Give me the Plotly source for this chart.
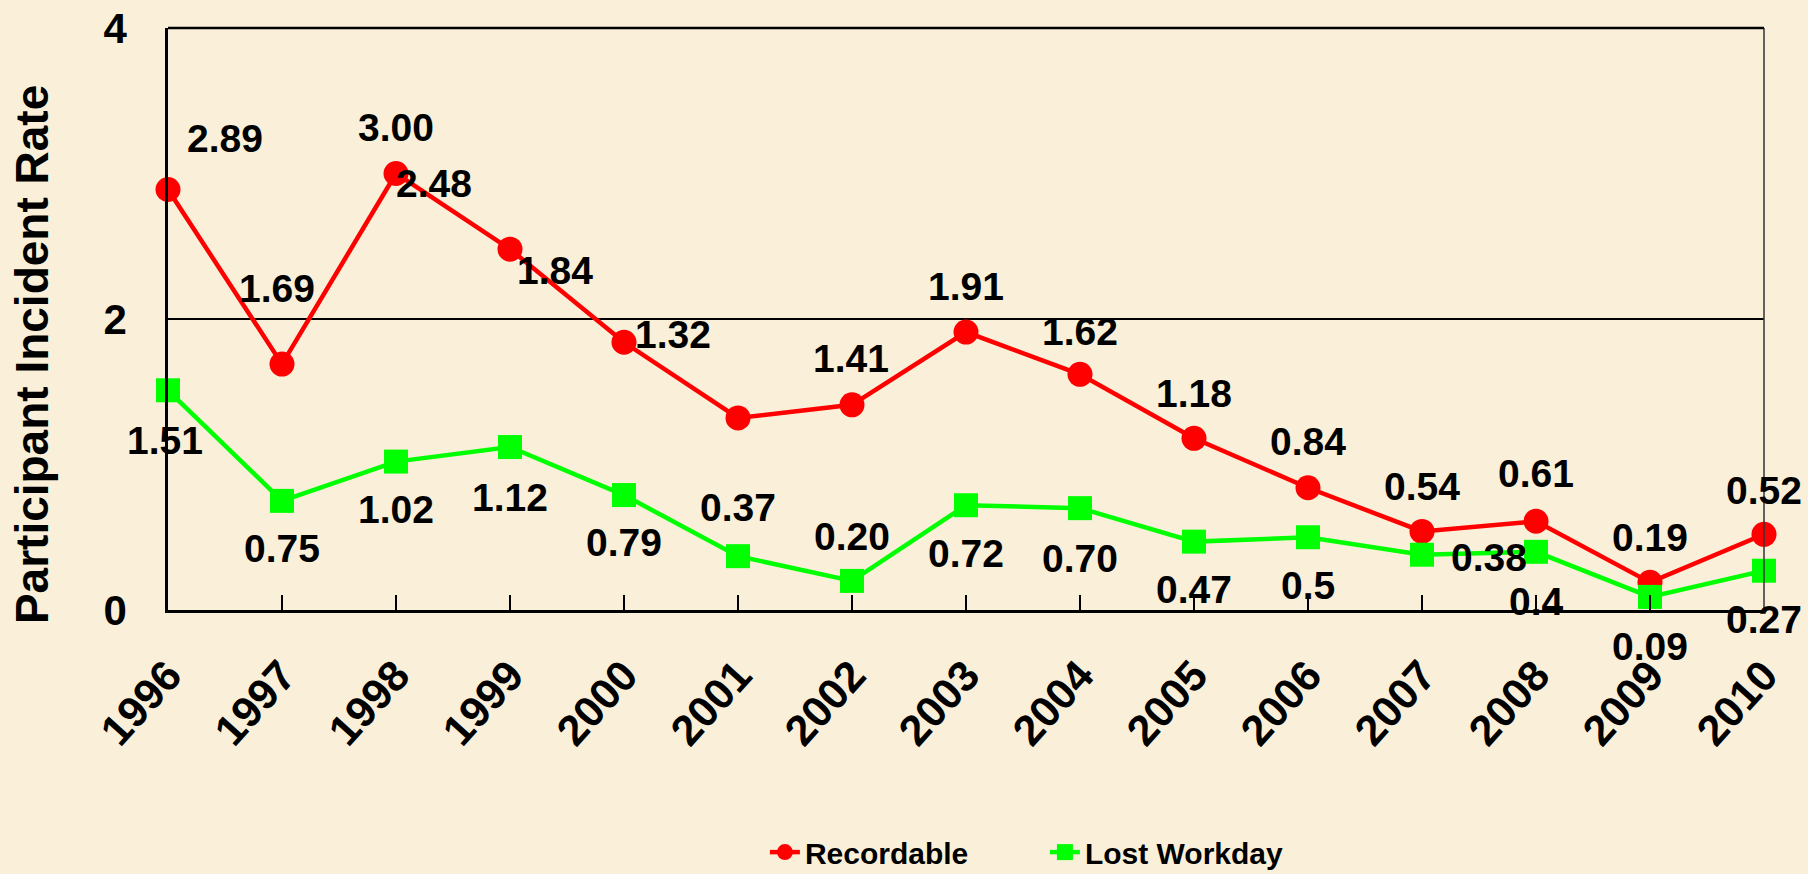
import plotly.graph_objects as go

years = [1996, 1997, 1998, 1999, 2000, 2001, 2002, 2003, 2004, 2005, 2006, 2007, 2008, 2009, 2010]
recordable = [2.89, 1.69, 3.00, 2.48, 1.84, 1.32, 1.41, 1.91, 1.62, 1.18, 0.84, 0.54, 0.61, 0.19, 0.52]
recordable_labels = ["2.89", "1.69", "3.00", "2.48", "1.84", "1.32", "1.41", "1.91", "1.62", "1.18",
                     "0.84", "0.54", "0.61", "0.19", "0.52"]
lost_workday = [1.51, 0.75, 1.02, 1.12, 0.79, 0.37, 0.20, 0.72, 0.70, 0.47, 0.50, 0.38, 0.40, 0.09, 0.27]
lost_labels = ["1.51", "0.75", "1.02", "1.12", "0.79", "0.37", "0.20", "0.72", "0.70", "0.47",
               "0.5", "0.38", "0.4", "0.09", "0.27"]
y_ticks = [0, 2, 4]

# label offsets (pixels, dx right, dy down) relative to each point
rec_dx = [57, -5, 0, -76, -69, -65, -1, 0, 0, 0, 0, 0, 0, 0, 0]
rec_dy = [-51, -76, -46, -66, -72, -83, -46, -46, -43, -45, -46, -45, -48, -45, -44]
lw_dx = [-3, 0, 0, 0, 0, 0, 0, 0, 0, 0, 0, 67, 0, 0, 0]
lw_dy = [50, 48, 48, 50, 47, -49, -44, 48, 50, 48, 48, 3, 50, 50, 49]

FONT = "Liberation Sans, Arial, sans-serif"
RED = "#FF0000"
GREEN = "#00FF00"
BG = "#FAF0DA"

fig = go.Figure()
fig.add_trace(go.Scatter(x=years, y=recordable, name="Recordable", mode="lines+markers",
                         line=dict(color=RED, width=4.5),
                         marker=dict(symbol="circle", size=25, color=RED),
                         cliponaxis=False))
fig.add_trace(go.Scatter(x=years, y=lost_workday, name="Lost Workday", mode="lines+markers",
                         line=dict(color=GREEN, width=4.5),
                         marker=dict(symbol="square", size=24, color=GREEN),
                         cliponaxis=False))

annots = []
for x, y, t, dx, dy in zip(years, recordable, recordable_labels, rec_dx, rec_dy):
    annots.append(dict(x=x, y=y, xref="x", yref="y", text=t, showarrow=False,
                       xshift=dx, yshift=-dy,
                       font=dict(family=FONT, size=39, color="black", weight="bold")))
for x, y, t, dx, dy in zip(years, lost_workday, lost_labels, lw_dx, lw_dy):
    annots.append(dict(x=x, y=y, xref="x", yref="y", text=t, showarrow=False,
                       xshift=dx, yshift=-dy,
                       font=dict(family=FONT, size=39, color="black", weight="bold")))
annots.append(dict(x=-0.0852, y=0.438, xref="paper", yref="paper", text="Participant Incident Rate",
                   textangle=-90, showarrow=False, xanchor="center", yanchor="middle",
                   font=dict(family=FONT, size=46, color="black", weight="bold")))

fig.update_layout(
    width=1808, height=874,
    template="none",
    paper_bgcolor=BG, plot_bgcolor=BG,
    margin=dict(l=168, r=44, t=28, b=264, autoexpand=False),
    showlegend=True,
    legend=dict(orientation="h", x=0.374, y=-0.416, xanchor="left", yanchor="middle",
                bgcolor="rgba(0,0,0,0)", entrywidth=235, itemsizing="trace",
                font=dict(family=FONT, size=30, color="black", weight="bold")),
    annotations=annots,
    shapes=[
        dict(type="line", xref="paper", yref="paper", x0=1, x1=1, y0=0, y1=1,
             line=dict(color="#333333", width=1.5)),
        dict(type="line", xref="paper", yref="paper", x0=0, x1=1, y0=1, y1=1,
             line=dict(color="black", width=2.5)),
    ],
    xaxis=dict(range=[1996, 2010], tickvals=years, ticktext=[str(y) for y in years],
               tickangle=-48, ticks="inside", ticklen=15, tickwidth=2, tickcolor="black",
               showline=True, linecolor="black", linewidth=2.5, showgrid=False, zeroline=False,
               automargin=False, ticklabelstandoff=20,
               tickfont=dict(family=FONT, size=43, color="black", weight="bold")),
    yaxis=dict(range=[0, 4], tickvals=y_ticks, ticks="inside", ticklen=14, tickwidth=2,
               tickcolor="black", showline=True, linecolor="black", linewidth=2.5,
               showgrid=True, gridcolor="black", gridwidth=2, zeroline=False,
               automargin=False, ticklabelstandoff=30,
               tickfont=dict(family=FONT, size=42, color="black", weight="bold")),
)

fig.write_html("out.html", config={"displayModeBar": False},
               post_script="document.body.style.margin='0';document.body.style.overflow='hidden';"
                           "document.body.style.background='" + BG + "';")
